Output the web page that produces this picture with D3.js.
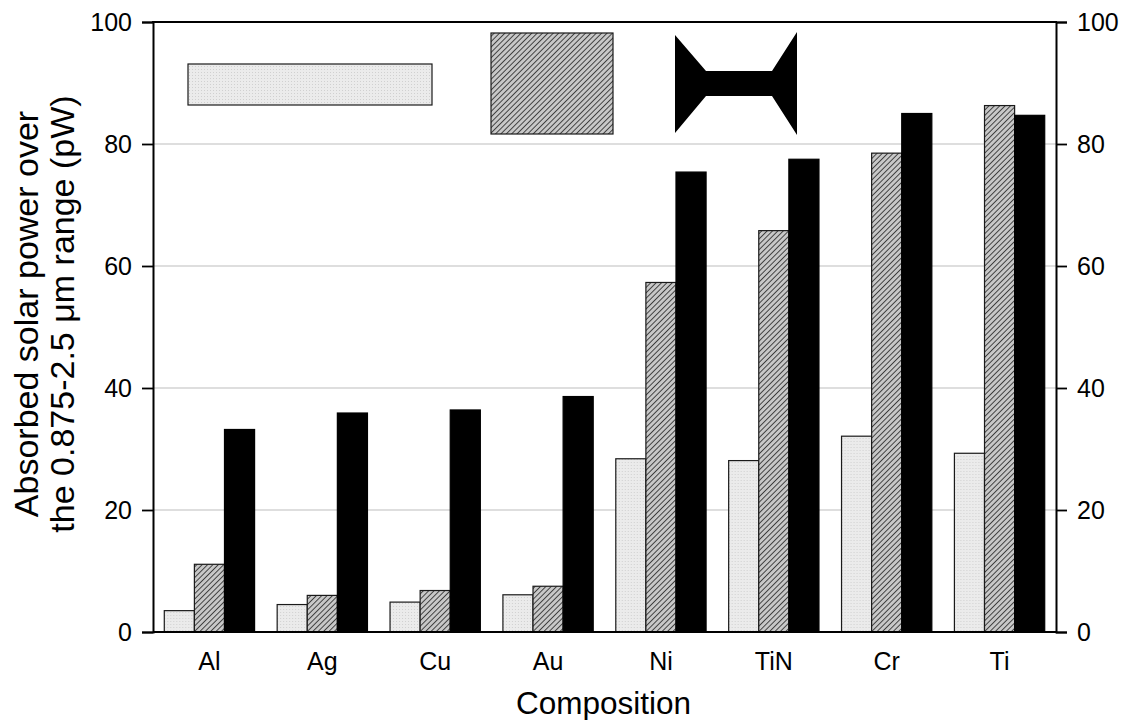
<!DOCTYPE html>
<html>
<head>
<meta charset="utf-8">
<script src="https://cdn.jsdelivr.net/npm/d3@7"></script>
<style>
  body { margin: 0; background: #fff; }
  svg { display: block; font-family: "Liberation Sans", Arial, sans-serif; }
</style>
</head>
<body>
<svg id="chart" width="1130" height="720"></svg>
<script>
// ---- data ----
const categories = ["Al", "Ag", "Cu", "Au", "Ni", "TiN", "Cr", "Ti"];
const seriesNames = ["flat", "hatched", "shaped"];
const flatValues    = [3.5, 4.5, 4.9, 6.1, 28.4, 28.1, 32.1, 29.3];
const hatchedValues = [11.1, 6.0, 6.8, 7.5, 57.3, 65.8, 78.5, 86.3];
const shapedValues  = [33.2, 35.9, 36.4, 38.6, 75.4, 77.5, 85.0, 84.7];
const yTicks = [0, 20, 40, 60, 80, 100];
const yLabelLines = ["Absorbed solar power over", "the 0.875-2.5 \u03bcm range (pW)"];
const xLabel = "Composition";

const seriesValues = [flatValues, hatchedValues, shapedValues];
const table = categories.map((c, i) => ({
  cat: c,
  vals: seriesNames.map((s, k) => ({ key: s, value: seriesValues[k][i] }))
}));

// ---- layout ----
const svg = d3.select("#chart");
const L = 153, R = 1056, T = 22, B = 632;

const x0 = d3.scaleBand().domain(categories).range([L, R]).paddingInner(0.2).paddingOuter(0.1);
const x1 = d3.scaleBand().domain(seriesNames).range([0, x0.bandwidth()]).padding(0);
const y = d3.scaleLinear().domain([0, 100]).range([B, T]);

// ---- patterns ----
const defs = svg.append("defs");
const dots = defs.append("pattern").attr("id", "dots")
  .attr("patternUnits", "userSpaceOnUse").attr("width", 3).attr("height", 3);
dots.append("rect").attr("width", 3).attr("height", 3).attr("fill", "#ebebeb");
dots.append("rect").attr("width", 1).attr("height", 1).attr("fill", "#d0d0d0");

const HW = 3.8;
const hatch = defs.append("pattern").attr("id", "hatch")
  .attr("patternUnits", "userSpaceOnUse").attr("width", HW).attr("height", HW)
  .attr("patternTransform", "rotate(45)");
hatch.append("rect").attr("width", HW).attr("height", HW).attr("fill", "#c8c8c8");
hatch.append("line").attr("x1", 0.5).attr("y1", 0).attr("x2", 0.5).attr("y2", HW)
  .attr("stroke", "#333").attr("stroke-width", 0.9);

const fills = { flat: "url(#dots)", hatched: "url(#hatch)", shaped: "#000" };

// ---- gridlines ----
svg.append("g").selectAll("line").data(yTicks.filter(t => t > 0 && t < 100)).join("line")
  .attr("x1", L).attr("x2", R).attr("y1", d => y(d)).attr("y2", d => y(d))
  .attr("stroke", "#bdbdbd").attr("stroke-width", 1.2);

// ---- bars ----
const groups = svg.append("g").selectAll("g").data(table).join("g")
  .attr("transform", d => `translate(${x0(d.cat)},0)`);
groups.selectAll("rect").data(d => d.vals).join("rect")
  .attr("x", d => x1(d.key))
  .attr("width", x1.bandwidth())
  .attr("y", d => y(d.value))
  .attr("height", d => y(0) - y(d.value))
  .attr("fill", d => fills[d.key])
  .attr("stroke", d => d.key === "shaped" ? "#000" : "#1a1a1a")
  .attr("stroke-width", 1.2);

// ---- axes ----
const fontSize = 25;
const yLeft = svg.append("g").attr("transform", `translate(${L},0)`)
  .call(d3.axisLeft(y).tickValues(yTicks).tickSize(11).tickPadding(10).tickFormat(d3.format("d")));
const yRight = svg.append("g").attr("transform", `translate(${R},0)`)
  .call(d3.axisRight(y).tickValues(yTicks).tickSize(11).tickPadding(10).tickFormat(d3.format("d")));
const xAxis = svg.append("g").attr("transform", `translate(0,${B})`)
  .call(d3.axisBottom(x0).tickSize(0).tickPadding(20));

[yLeft, yRight, xAxis].forEach(g => {
  g.selectAll("text").attr("font-size", fontSize).attr("fill", "#000")
    .attr("font-family", "'Liberation Sans', Arial, sans-serif");
  g.selectAll(".tick line").attr("stroke", "#000").attr("stroke-width", 1.8);
  g.select(".domain").attr("stroke", "#000").attr("stroke-width", 2);
});
xAxis.select(".domain").attr("d", `M${L},0H${R}`);
// top frame line
svg.append("line").attr("x1", L - 1).attr("x2", R + 1).attr("y1", T).attr("y2", T)
  .attr("stroke", "#000").attr("stroke-width", 2.2);

// ---- axis titles ----
svg.append("text").attr("x", (L + R) / 2 - 1).attr("y", 714).attr("text-anchor", "middle")
  .attr("font-size", 31.5).text(xLabel);
const yl = svg.append("text").attr("transform", `translate(38,${314}) rotate(-90)`)
  .attr("text-anchor", "middle").attr("font-size", 34);
yl.selectAll("tspan").data(yLabelLines).join("tspan")
  .attr("x", 0).attr("dy", (d, i) => i === 0 ? 0 : 36).text(d => d);

// ---- legend icons (no text) ----
const lg = svg.append("g");
lg.append("rect").attr("x", 188).attr("y", 64).attr("width", 244).attr("height", 41)
  .attr("fill", "url(#dots)").attr("stroke", "#1a1a1a").attr("stroke-width", 1.2);
lg.append("rect").attr("x", 491).attr("y", 33).attr("width", 122).attr("height", 101)
  .attr("fill", "url(#hatch)").attr("stroke", "#1a1a1a").attr("stroke-width", 1.2);
const bow = [[675,35],[706,71],[772,71],[797,32],[797,135],[772,96],[706,96],[675,133]];
lg.append("path").attr("d", d3.line()(bow) + "Z").attr("fill", "#000");
</script>
</body>
</html>
